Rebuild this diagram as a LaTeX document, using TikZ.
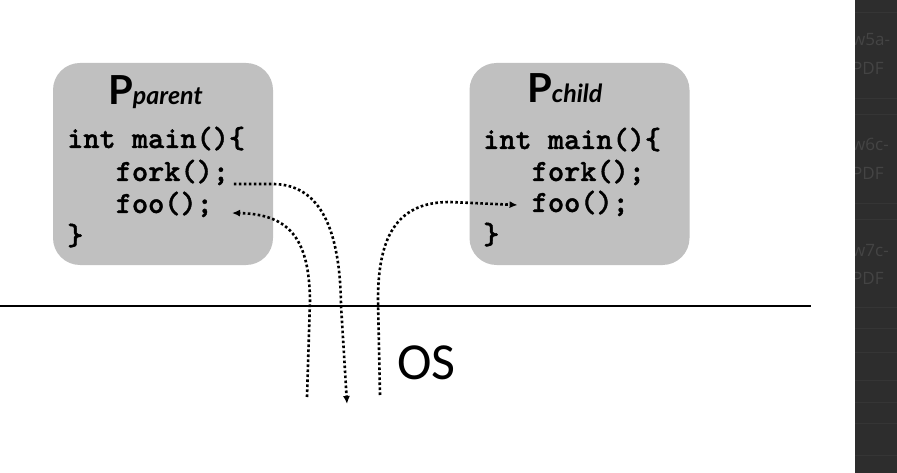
\documentclass[tikz,border=0pt]{standalone}
\usepackage{fontspec}
\setmainfont{Carlito}
\newfontfamily\codefont{Latin Modern Mono Light}[BoldFeatures={FakeBold=1.3}]
\newfontfamily\titlefont{Lato}
\newfontfamily\uifont{Open Sans}
\usetikzlibrary{arrows.meta,calc}
\definecolor{boxgray}{RGB}{192,192,192}
\definecolor{stripbg}{RGB}{45,45,45}
\definecolor{striptext}{RGB}{68,68,68}
\definecolor{stripline}{RGB}{53,53,53}
\tikzset{
  procbox/.style={fill=boxgray, draw=none, rounded corners=27pt, minimum width=220pt, minimum height=202pt, inner sep=0pt},
  codeline/.style={anchor=base west, inner sep=0pt, font=\codefont\bfseries\fontsize{30.8}{30.8}\selectfont},
  ptitle/.style={anchor=base west, inner sep=0pt},
  flow/.style={line width=2.6pt, dash pattern=on 2.6pt off 2.4pt, -{Latex[length=8pt,width=7pt]}},
  uitext/.style={anchor=base west, inner sep=0pt, text=striptext, font=\uifont\fontsize{17}{17}\selectfont},
}
\newcommand{\ttl}[2]{{\titlefont\bfseries\fontsize{40}{40}\selectfont #1\fontsize{25}{25}\selectfont\itshape #2}}
\begin{document}
\begin{tikzpicture}[x=1pt,y=-1pt]
\useasboundingbox (0,0) rectangle (897,473);
\fill[white] (0,0) rectangle (897,473);

% process boxes
\node[procbox] (parentbox) at (163,164) {};
\node[procbox] (childbox) at (579.5,164) {};

% titles
\node[ptitle] (ptl) at (108,105) {\ttl{P}{parent}};
\node[ptitle] (ctl) at (527,103) {\ttl{P}{child}};

% parent code
\node[codeline] (pmain) at (67,148) {int main()\{};
\node[codeline] (pfork) at (115.6,181) {fork();};
\node[codeline] (pfoo)  at (115.6,213) {foo();};
\node[codeline] (pend)  at (67,245) {\}};

% child code
\node[codeline] (cmain) at (483,149) {int main()\{};
\node[codeline] (cfork) at (531.6,181) {fork();};
\node[codeline] (cfoo)  at (531.6,212) {foo();};
\node[codeline] (cend)  at (483,244) {\}};

% OS boundary
\coordinate (osl) at (0,306);
\coordinate (osr) at (811,306);
\draw[line width=2.2pt] (osl) -- (osr);
\node[anchor=base west, inner sep=0pt, font=\fontsize{52}{52}\selectfont] (os) at (397,379) {OS};

% connector end points
\coordinate (a0) at ($(pfork.base east)+(4.6,3)$);
\coordinate (a1) at (347,404);
\coordinate (b0) at (307,397);
\coordinate (b1) at ($(pfoo.base east)+(19,0)$);
\coordinate (c0) at (380,395);
\coordinate (c1) at ($(cfoo.base west)+(-14,-7)$);

% fork: parent traps into OS
\draw[flow] (a0) -- ++(40,0) .. controls +(48,1) and (340,232) .. (341,305) -- (a1);
% return to parent foo()
\draw[flow] (b0) -- (310,300) .. controls (309,242) and (292,214) .. (b1);
% child starts at foo()
\draw[flow] (c0) -- (378,300) .. controls (378,232) and (400,202) .. (450,202) -- (c1);

% dark strip on the right
\fill[stripbg] (855,0) rectangle (897,473);
\begin{scope}
\clip (855,0) rectangle (897,473);
\foreach \yy in {12,98,114,203,219,307,328,352,380,402,423,455}{
  \draw[stripline, line width=0.8pt] (855,\yy) -- (897,\yy);
}
\node[uitext] (s1) at (852,46) {w5a-};
\node[uitext] (s2) at (852,75) {PDF};
\node[uitext] (s3) at (852,151) {w6c-};
\node[uitext] (s4) at (852,180) {PDF};
\node[uitext] (s5) at (852,256) {w7c-};
\node[uitext] (s6) at (852,284) {PDF};
\end{scope}
\end{tikzpicture}
\end{document}
